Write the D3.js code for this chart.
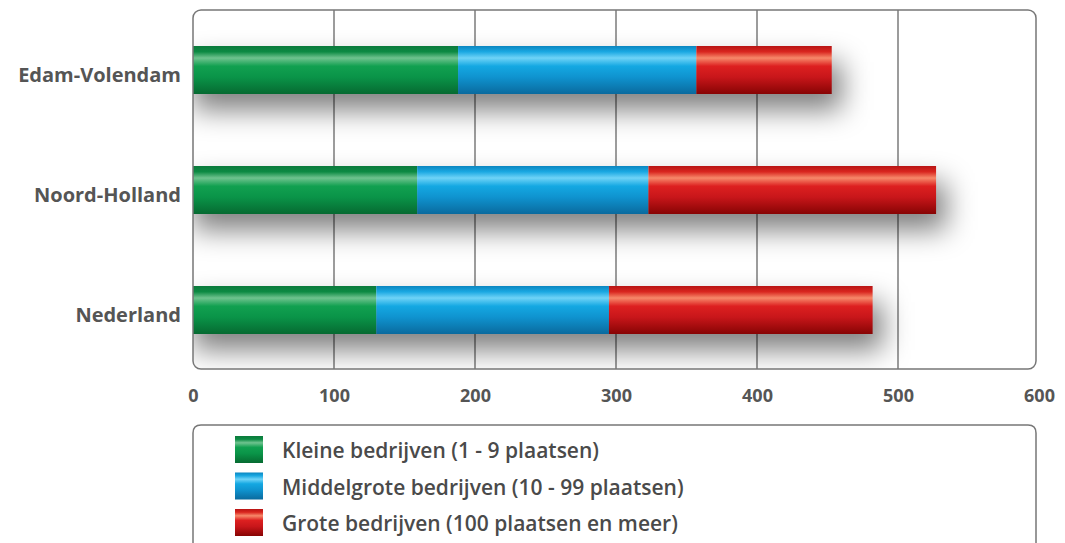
<!DOCTYPE html>
<html>
<head>
<meta charset="utf-8">
<script src="https://cdn.jsdelivr.net/npm/d3@7"></script>
<style>
  body { margin: 0; background: #fff; }
  text { font-family: "Open Sans", sans-serif; }
</style>
</head>
<body>
<div id="chart"></div>
<script>
// data
var regions = ["Edam-Volendam", "Noord-Holland", "Nederland"];
var kleine = [188, 159, 130];
var middelgroot = [169, 164, 165];
var groot = [96, 204, 187];
var seriesKeys = ["kleine", "middel", "groot"];
var seriesLabels = [
    "Kleine bedrijven (1 - 9 plaatsen)",
    "Middelgrote bedrijven (10 - 99 plaatsen)",
    "Grote bedrijven (100 plaatsen en meer)"
];
var xTicks = [0, 100, 200, 300, 400, 500, 600];

var svgWidth = 1065, svgHeight = 543;
var plot = { left: 193, right: 1036, top: 10, bottom: 369 };

var svg = d3.select("#chart").append("svg")
    .attr("width", svgWidth)
    .attr("height", svgHeight);

var defs = svg.append("defs");

// bar gradients: dark rim, light stripe, main colour, dark bottom
var gradStops = {
    kleine: ["#0b7a3c", "#0c8a43", "#6fc38f", "#11a050", "#0a9448", "#066a31"],
    middel: ["#0b86c0", "#1aa8e2", "#6fd3f7", "#14a8e2", "#0f93cf", "#0a6a9e"],
    groot:  ["#b81414", "#d9261f", "#f7896a", "#dd2020", "#c8161a", "#870404"]
};
var stopPos = [0, 0.12, 0.25, 0.42, 0.65, 1];
seriesKeys.forEach(function(k) {
    var g = defs.append("linearGradient")
        .attr("id", "grad-" + k)
        .attr("x1", 0).attr("y1", 0).attr("x2", 0).attr("y2", 1);
    gradStops[k].forEach(function(c, i) {
        g.append("stop").attr("offset", stopPos[i]).attr("stop-color", c);
    });
});

// soft drop shadow under the bars
var shadow = defs.append("filter").attr("id", "shadow")
    .attr("filterUnits", "userSpaceOnUse")
    .attr("x", 100).attr("y", -50).attr("width", 1000).attr("height", 500);
shadow.append("feGaussianBlur").attr("in", "SourceGraphic").attr("stdDeviation", 14);

var plotClip = defs.append("clipPath").attr("id", "plotclip");
plotClip.append("rect")
    .attr("x", plot.left).attr("y", plot.top)
    .attr("width", plot.right - plot.left).attr("height", plot.bottom - plot.top)
    .attr("rx", 8);

// scales
var xScale = d3.scaleLinear().domain([0, 600]).range([plot.left, 1039]);
var yScale = d3.scaleBand().domain(regions)
    .range([plot.top, plot.bottom + 1])
    .paddingInner(0.6).paddingOuter(0.3);

// plot frame
svg.append("rect")
    .attr("x", plot.left).attr("y", plot.top)
    .attr("width", plot.right - plot.left).attr("height", plot.bottom - plot.top)
    .attr("rx", 8)
    .attr("fill", "#fff");

// stack the data
var tableData = regions.map(function(r, i) {
    return { region: r, kleine: kleine[i], middel: middelgroot[i], groot: groot[i] };
});
var stacked = d3.stack().keys(seriesKeys)(tableData);

// gridlines
svg.append("g").selectAll("line")
    .data(xTicks.filter(function(d) { return d > 0 && d < 600; }))
    .enter().append("line")
    .attr("x1", function(d) { return xScale(d); })
    .attr("x2", function(d) { return xScale(d); })
    .attr("y1", plot.top).attr("y2", plot.bottom)
    .attr("stroke", "#5a5a5a").attr("stroke-width", 1.2);

// shadows
svg.append("g").attr("clip-path", "url(#plotclip)")
    .append("g").attr("filter", "url(#shadow)")
    .selectAll("rect")
    .data(tableData)
    .enter().append("rect")
    .attr("x", plot.left)
    .attr("y", function(d) { return yScale(d.region) + 16; })
    .attr("width", function(d) { return xScale(d.kleine + d.middel + d.groot) - plot.left + 10; })
    .attr("height", yScale.bandwidth())
    .attr("fill", "#000")
    .attr("fill-opacity", 0.5);

// bars
var layers = svg.append("g").selectAll("g")
    .data(stacked)
    .enter().append("g")
    .attr("fill", function(d) { return "url(#grad-" + d.key + ")"; });

layers.selectAll("rect")
    .data(function(d) { return d; })
    .enter().append("rect")
    .attr("x", function(d) { return xScale(d[0]); })
    .attr("y", function(d) { return yScale(d.data.region); })
    .attr("width", function(d) { return xScale(d[1]) - xScale(d[0]); })
    .attr("height", yScale.bandwidth());

// frame stroke on top
svg.append("rect")
    .attr("x", plot.left).attr("y", plot.top)
    .attr("width", plot.right - plot.left).attr("height", plot.bottom - plot.top)
    .attr("rx", 8)
    .attr("fill", "none")
    .attr("stroke", "#777").attr("stroke-width", 1.5);

// x axis labels
var bottomAxis = d3.axisBottom(xScale).tickValues(xTicks).tickSize(0).tickPadding(20);
var xAxisG = svg.append("g")
    .attr("transform", "translate(0," + plot.bottom + ")")
    .call(bottomAxis);
xAxisG.select(".domain").remove();
xAxisG.selectAll("text")
    .attr("font-family", "Open Sans, sans-serif")
    .attr("font-size", 18).attr("font-weight", 700)
    .attr("fill", "#555");

// y axis labels
var leftAxis = d3.axisLeft(yScale).tickSize(0).tickPadding(12);
var yAxisG = svg.append("g")
    .attr("transform", "translate(" + plot.left + ",0)")
    .call(leftAxis);
yAxisG.select(".domain").remove();
yAxisG.selectAll("text")
    .attr("dy", "0.62em")
    .attr("font-family", "Open Sans, sans-serif")
    .attr("font-size", 20).attr("font-weight", 700)
    .attr("fill", "#555");

// legend box (runs off the bottom edge)
svg.append("path")
    .attr("d", "M193,560 L193,433 Q193,425 201,425 L1028,425 Q1036,425 1036,433 L1036,560")
    .attr("fill", "#fff")
    .attr("stroke", "#777").attr("stroke-width", 1.5);

var legend = svg.append("g").selectAll("g")
    .data(seriesKeys)
    .enter().append("g")
    .attr("transform", function(d, i) { return "translate(235," + (436 + i * 36.5) + ")"; });

legend.append("rect")
    .attr("width", 28).attr("height", 27)
    .attr("fill", function(d) { return "url(#grad-" + d + ")"; });

legend.append("text")
    .attr("x", 47).attr("y", 22)
    .attr("font-size", 21).attr("font-weight", 600)
    .attr("fill", "#4a4a4a")
    .text(function(d, i) { return seriesLabels[i]; });
</script>
</body>
</html>
